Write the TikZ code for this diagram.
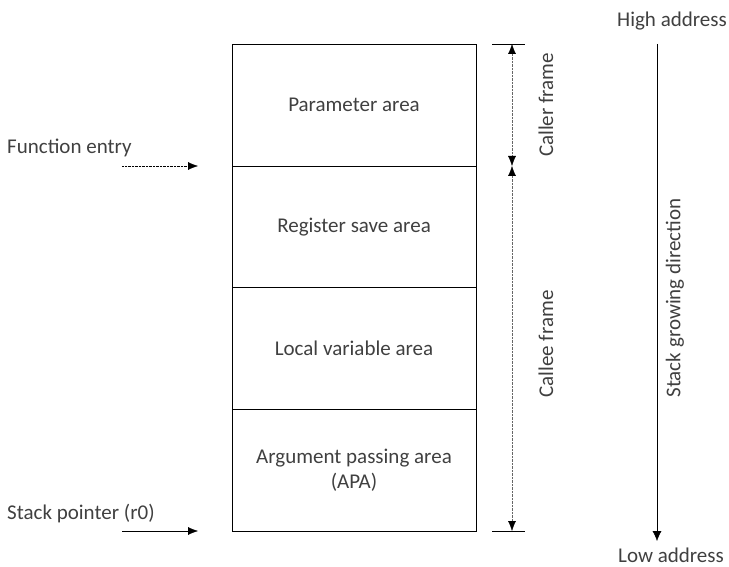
\documentclass[tikz,border=0pt]{standalone}
\usepackage{fontspec}
\setmainfont{Carlito}
\usetikzlibrary{positioning,arrows.meta}

\begin{document}
\begin{tikzpicture}[x=1pt,y=-1pt,
    font=\fontsize{21}{25}\selectfont,
    txt/.style={text=black!75, inner sep=0pt},
    area/.style={draw, txt, outer sep=0pt, minimum width=244pt, minimum height=121.75pt, align=center},
    tip/.style={-{Latex[length=10pt,width=8pt]}},
    dimline/.style={densely dotted, black!60, {Latex[length=10pt,width=8pt,black]}-{Latex[length=10pt,width=8pt,black]}}]
    \useasboundingbox (0,0) rectangle (729,567);
    % Stack frame
    \node[area, anchor=north west] (param) at (232,44) {Parameter area};
    \node[area, below=0pt of param] (regsave) {Register save area};
    \node[area, below=0pt of regsave] (localvar) {Local variable area};
    \node[area, below=0pt of localvar] (apa) {Argument passing area\\(APA)};
    % Pointers on the left
    \node[txt, anchor=west] (entry) at (7,148) {Function entry};
    \node[txt, anchor=west] (sp) at (7,514) {Stack pointer (r0)};
    \coordinate (entrystart) at (122,166);
    \coordinate (spstart) at (122,531);
    \draw[tip, densely dotted] (entrystart) -- (entrystart -| 198,0);
    \draw[tip] (spstart) -- (spstart -| 198,0);
    % Frame extents
    \coordinate (ftop) at (512,44);
    \coordinate (fmid) at (512,166);
    \coordinate (fbot) at (512,531);
    \draw (492,44) -- (525,44);
    \draw (492,531) -- (525,531);
    \draw[dimline] (ftop) -- (fmid);
    \draw[dimline] (fmid) -- (fbot);
    \node[txt, rotate=90] (caller) at (546,105) {Caller frame};
    \node[txt, rotate=90] (callee) at (546,344) {Callee frame};
    % Growing direction
    \node[txt] (high) at (672,21) {High address};
    \node[txt] (low) at (671,555) {Low address};
    \coordinate (gtop) at (657,44);
    \coordinate (gbot) at (657,541);
    \draw[-{Latex[length=10pt,width=9pt]}] (gtop) -- (gbot);
    \node[txt, rotate=90] (growing) at (675,298) {Stack growing direction};
\end{tikzpicture}
\end{document}
